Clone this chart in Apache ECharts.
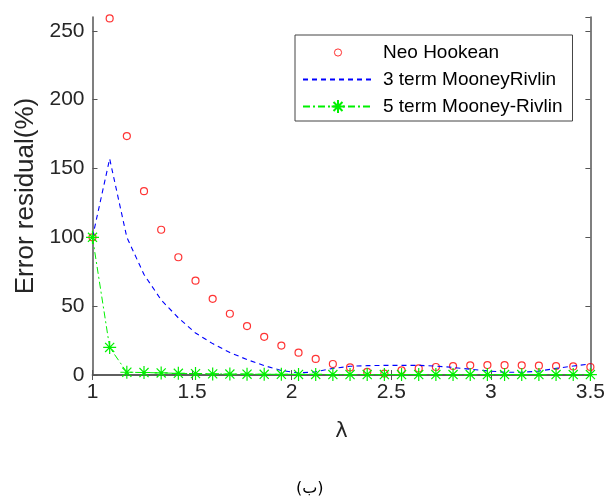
<!DOCTYPE html>
<html>
<head>
<meta charset="utf-8">
<script src="https://cdn.jsdelivr.net/npm/echarts@6/dist/echarts.min.js"></script>
<style>
html,body{margin:0;padding:0;background:#fff;}
#c{width:608px;height:497px;}
</style>
</head>
<body>
<div id="c"></div>
<script>
// ---- data ----
var lambdaValues = [1, 1.0862, 1.1724, 1.2586, 1.3448, 1.4310, 1.5172, 1.6034, 1.6897, 1.7759,
  1.8621, 1.9483, 2.0345, 2.1207, 2.2069, 2.2931, 2.3793, 2.4655, 2.5517, 2.6379,
  2.7241, 2.8103, 2.8966, 2.9828, 3.0690, 3.1552, 3.2414, 3.3276, 3.4138, 3.5];
var neoHookean = [100, 259, 173.5, 133.5, 105.5, 85.5, 68.5, 55.3, 44.5, 35.5,
  27.7, 21.4, 16.2, 11.7, 8, 5.5, 2.2, 1, 3.4, 4.8,
  5.8, 6.5, 7, 7.2, 7.1, 7, 6.8, 6.5, 6.2, 5.8];
var mooney3 = [100, 157, 100, 73, 54.5, 41.5, 30.5, 22.8, 16.3, 11.2,
  6.8, 3.3, 1.5, 2.3, 4.8, 6.3, 6.8, 7, 7, 7,
  6.5, 5.5, 4.2, 3, 2, 2, 2.8, 4.8, 6.5, 8];
var mooney5 = [100, 20, 2, 1.8, 1.5, 1.2, 1, 0.8, 0.7, 0.6,
  0.5, 0.5, 0.4, 0.4, 0.3, 0.3, 0.3, 0.3, 0.3, 0.3,
  0.3, 0.3, 0.3, 0.3, 0.3, 0.3, 0.3, 0.3, 0.3, 0.3];
var seriesNames = ['Neo Hookean', '3 term MooneyRivlin', '5 term Mooney-Rivlin'];
var xTicks = {min: 1, max: 3.5, interval: 0.5};
var yTicks = {min: 0, max: 260, interval: 50};
var xLabel = 'λ';
var yLabel = 'Error residual(%)';
var caption = '(ب)';

function pairs(xs, ys) { return xs.map(function (x, i) { return [x, ys[i]]; }); }

var FONT = '"Liberation Sans", Arial, Helvetica, sans-serif';
var axisCol = '#555555';
var textCol = '#262626';
var green = '#00f000';
var starPath = 'path://M5 0L5 10M0 5L10 5M1.5 1.5L8.5 8.5M1.5 8.5L8.5 1.5';
var legendCircle = 'path://M0 0L0 0M20 20L20 20M5.5 10A4.5 4.5 0 1 1 14.5 10A4.5 4.5 0 1 1 5.5 10Z';

var chart = echarts.init(document.getElementById('c'), null, {renderer: 'canvas'});

var baseAxis = {
  axisLine: {show: true, lineStyle: {color: axisCol, width: 1.5}},
  axisTick: {show: true, inside: true, length: 5, lineStyle: {color: axisCol, width: 1}},
  splitLine: {show: false}
};

chart.setOption({
  animation: false,
  backgroundColor: '#ffffff',
  grid: {left: 92.5, right: 17, top: 17, bottom: 122, containLabel: false},
  xAxis: [
    Object.assign({}, baseAxis, {
      type: 'value', position: 'bottom', min: xTicks.min, max: xTicks.max, interval: xTicks.interval,
      name: xLabel, nameLocation: 'middle', nameGap: 46,
      nameTextStyle: {fontFamily: '"DejaVu Sans", sans-serif', fontSize: 21, color: textCol},
      axisLabel: {fontFamily: FONT, fontSize: 21, color: textCol, margin: 7}
    }),
    Object.assign({}, baseAxis, {
      type: 'value', position: 'top', min: xTicks.min, max: xTicks.max, interval: xTicks.interval,
      axisLabel: {show: false}
    })
  ],
  yAxis: [
    Object.assign({}, baseAxis, {
      type: 'value', position: 'left', min: yTicks.min, max: yTicks.max, interval: yTicks.interval,
      name: yLabel, nameLocation: 'middle', nameGap: 52, nameRotate: 90,
      nameTextStyle: {fontFamily: FONT, fontSize: 26, color: textCol},
      axisLabel: {fontFamily: FONT, fontSize: 21, color: textCol, margin: 8, showMaxLabel: false}
    }),
    Object.assign({}, baseAxis, {
      type: 'value', position: 'right', min: yTicks.min, max: yTicks.max, interval: yTicks.interval,
      axisLabel: {show: false}
    })
  ],
  legend: {
    orient: 'vertical',
    left: 295, top: 35,
    padding: [8, 10, 5, 7],
    itemGap: 8,
    itemWidth: 70, itemHeight: 16,
    backgroundColor: '#ffffff',
    borderColor: '#444444', borderWidth: 1,
    textStyle: {fontFamily: FONT, fontSize: 19, color: '#000000', padding: [0, 0, 0, 5]},
    data: [
      {name: seriesNames[0], icon: legendCircle,
        itemStyle: {color: 'rgba(0,0,0,0)', borderColor: '#ff0000', borderWidth: 1}},
      {name: seriesNames[1], itemStyle: {color: 'rgba(0,0,0,0)', borderColor: 'rgba(0,0,0,0)', borderWidth: 0, opacity: 0}},
      {name: seriesNames[2]}
    ]
  },
  series: [
    {
      name: seriesNames[0], type: 'scatter', xAxisIndex: 0, yAxisIndex: 0,
      data: pairs(lambdaValues, neoHookean),
      symbol: 'circle', symbolSize: 7,
      itemStyle: {color: 'rgba(0,0,0,0)', borderColor: '#ff0000', borderWidth: 1.2},
      z: 2
    },
    {
      name: seriesNames[1], type: 'line', xAxisIndex: 0, yAxisIndex: 0,
      data: pairs(lambdaValues, mooney3),
      symbol: 'none', showSymbol: false,
      lineStyle: {color: '#0000ff', width: 1.1, type: [5, 4]},
      itemStyle: {color: '#0000ff'},
      z: 3
    },
    {
      name: seriesNames[2], type: 'line', xAxisIndex: 0, yAxisIndex: 0,
      data: pairs(lambdaValues, mooney5),
      symbol: starPath, symbolSize: 13, showSymbol: true,
      lineStyle: {color: green, width: 1, type: [7, 3, 2, 3]},
      itemStyle: {color: 'rgba(0,0,0,0)', borderColor: green, borderWidth: 1.2},
      z: 4
    }
  ],
  graphic: [
    {type: 'text', left: 296, top: 481, style: {text: caption, fontFamily: '"DejaVu Sans", sans-serif', fontSize: 16, fill: '#000000'}}
  ]
});
</script>
</body>
</html>
